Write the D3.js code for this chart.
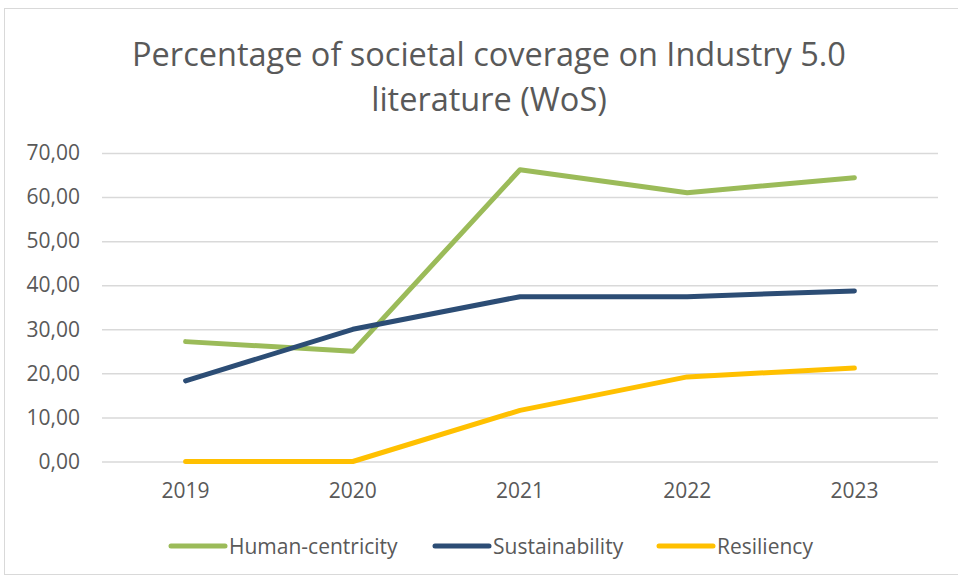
<!DOCTYPE html>
<html><head><meta charset="utf-8">
<script src="https://cdn.jsdelivr.net/npm/d3@7"></script>
<style>body{margin:0;background:#fff}svg{display:block}text{font-family:"Open Sans",sans-serif;fill:#595959}</style>
</head><body><svg id="c" width="958" height="580"></svg>
<script>
const years = ["2019","2020","2021","2022","2023"];
const humanCentricity = [27.2, 25.0, 66.2, 61.0, 64.4];
const sustainability = [18.3, 30.0, 37.4, 37.4, 38.7];
const resiliency = [0, 0, 11.6, 19.2, 21.2];
const yTicks = [0,10,20,30,40,50,60,70];
const seriesNames = ["Human-centricity","Sustainability","Resiliency"];
const seriesColors = ["#9BBB59","#2C4D75","#FFC000"];
const seriesData = [humanCentricity, sustainability, resiliency];

const svg = d3.select("#c");
svg.append("rect").attr("x",4.5).attr("y",8.5).attr("width",970).attr("height",566)
  .attr("fill","#fff").attr("stroke","#d9d9d9");

const x = d3.scaleBand().domain(years).range([102,938]);
const y = d3.scaleLinear().domain([0,70]).range([461.5,153]);

const title = svg.append("text").attr("text-anchor","middle").attr("font-size",32.5);
title.append("tspan").attr("x",489).attr("y",66).text("Percentage of societal coverage on Industry 5.0");
title.append("tspan").attr("x",489).attr("y",111).text("literature (WoS)");

const yAxis = d3.axisLeft(y).tickValues(yTicks).tickSize(-836).tickPadding(22)
  .tickFormat(d => d3.format(".2f")(d).replace(".", ","));
const gy = svg.append("g").attr("transform","translate(102,0)").call(yAxis);
gy.select(".domain").remove();
gy.selectAll(".tick line").attr("stroke","#d9d9d9").attr("stroke-width",1.5);
gy.selectAll(".tick text").attr("font-size",21).attr("fill","#595959");

const xAxis = d3.axisBottom(x).tickSize(0).tickPadding(22);
const gx = svg.append("g").attr("transform","translate(0,461.5)").call(xAxis);
gx.select(".domain").remove();
gx.selectAll(".tick text").attr("font-size",21).attr("fill","#595959");

const line = d3.line().x((d,i)=>x(years[i])+x.bandwidth()/2).y(d=>y(d));
seriesData.forEach((s,k)=>{
  svg.append("path").datum(s).attr("d",line).attr("fill","none")
    .attr("stroke",seriesColors[k]).attr("stroke-width",5)
    .attr("stroke-linecap","round").attr("stroke-linejoin","round");
});

const legX = [171, 435, 659];
const lg = svg.append("g");
seriesNames.forEach((n,k)=>{
  lg.append("line").attr("x1",legX[k]).attr("x2",legX[k]+54).attr("y1",546).attr("y2",546)
    .attr("stroke",seriesColors[k]).attr("stroke-width",5).attr("stroke-linecap","round");
  lg.append("text").attr("x",legX[k]+58).attr("y",553.5).attr("font-size",21).text(n);
});
</script></body></html>
